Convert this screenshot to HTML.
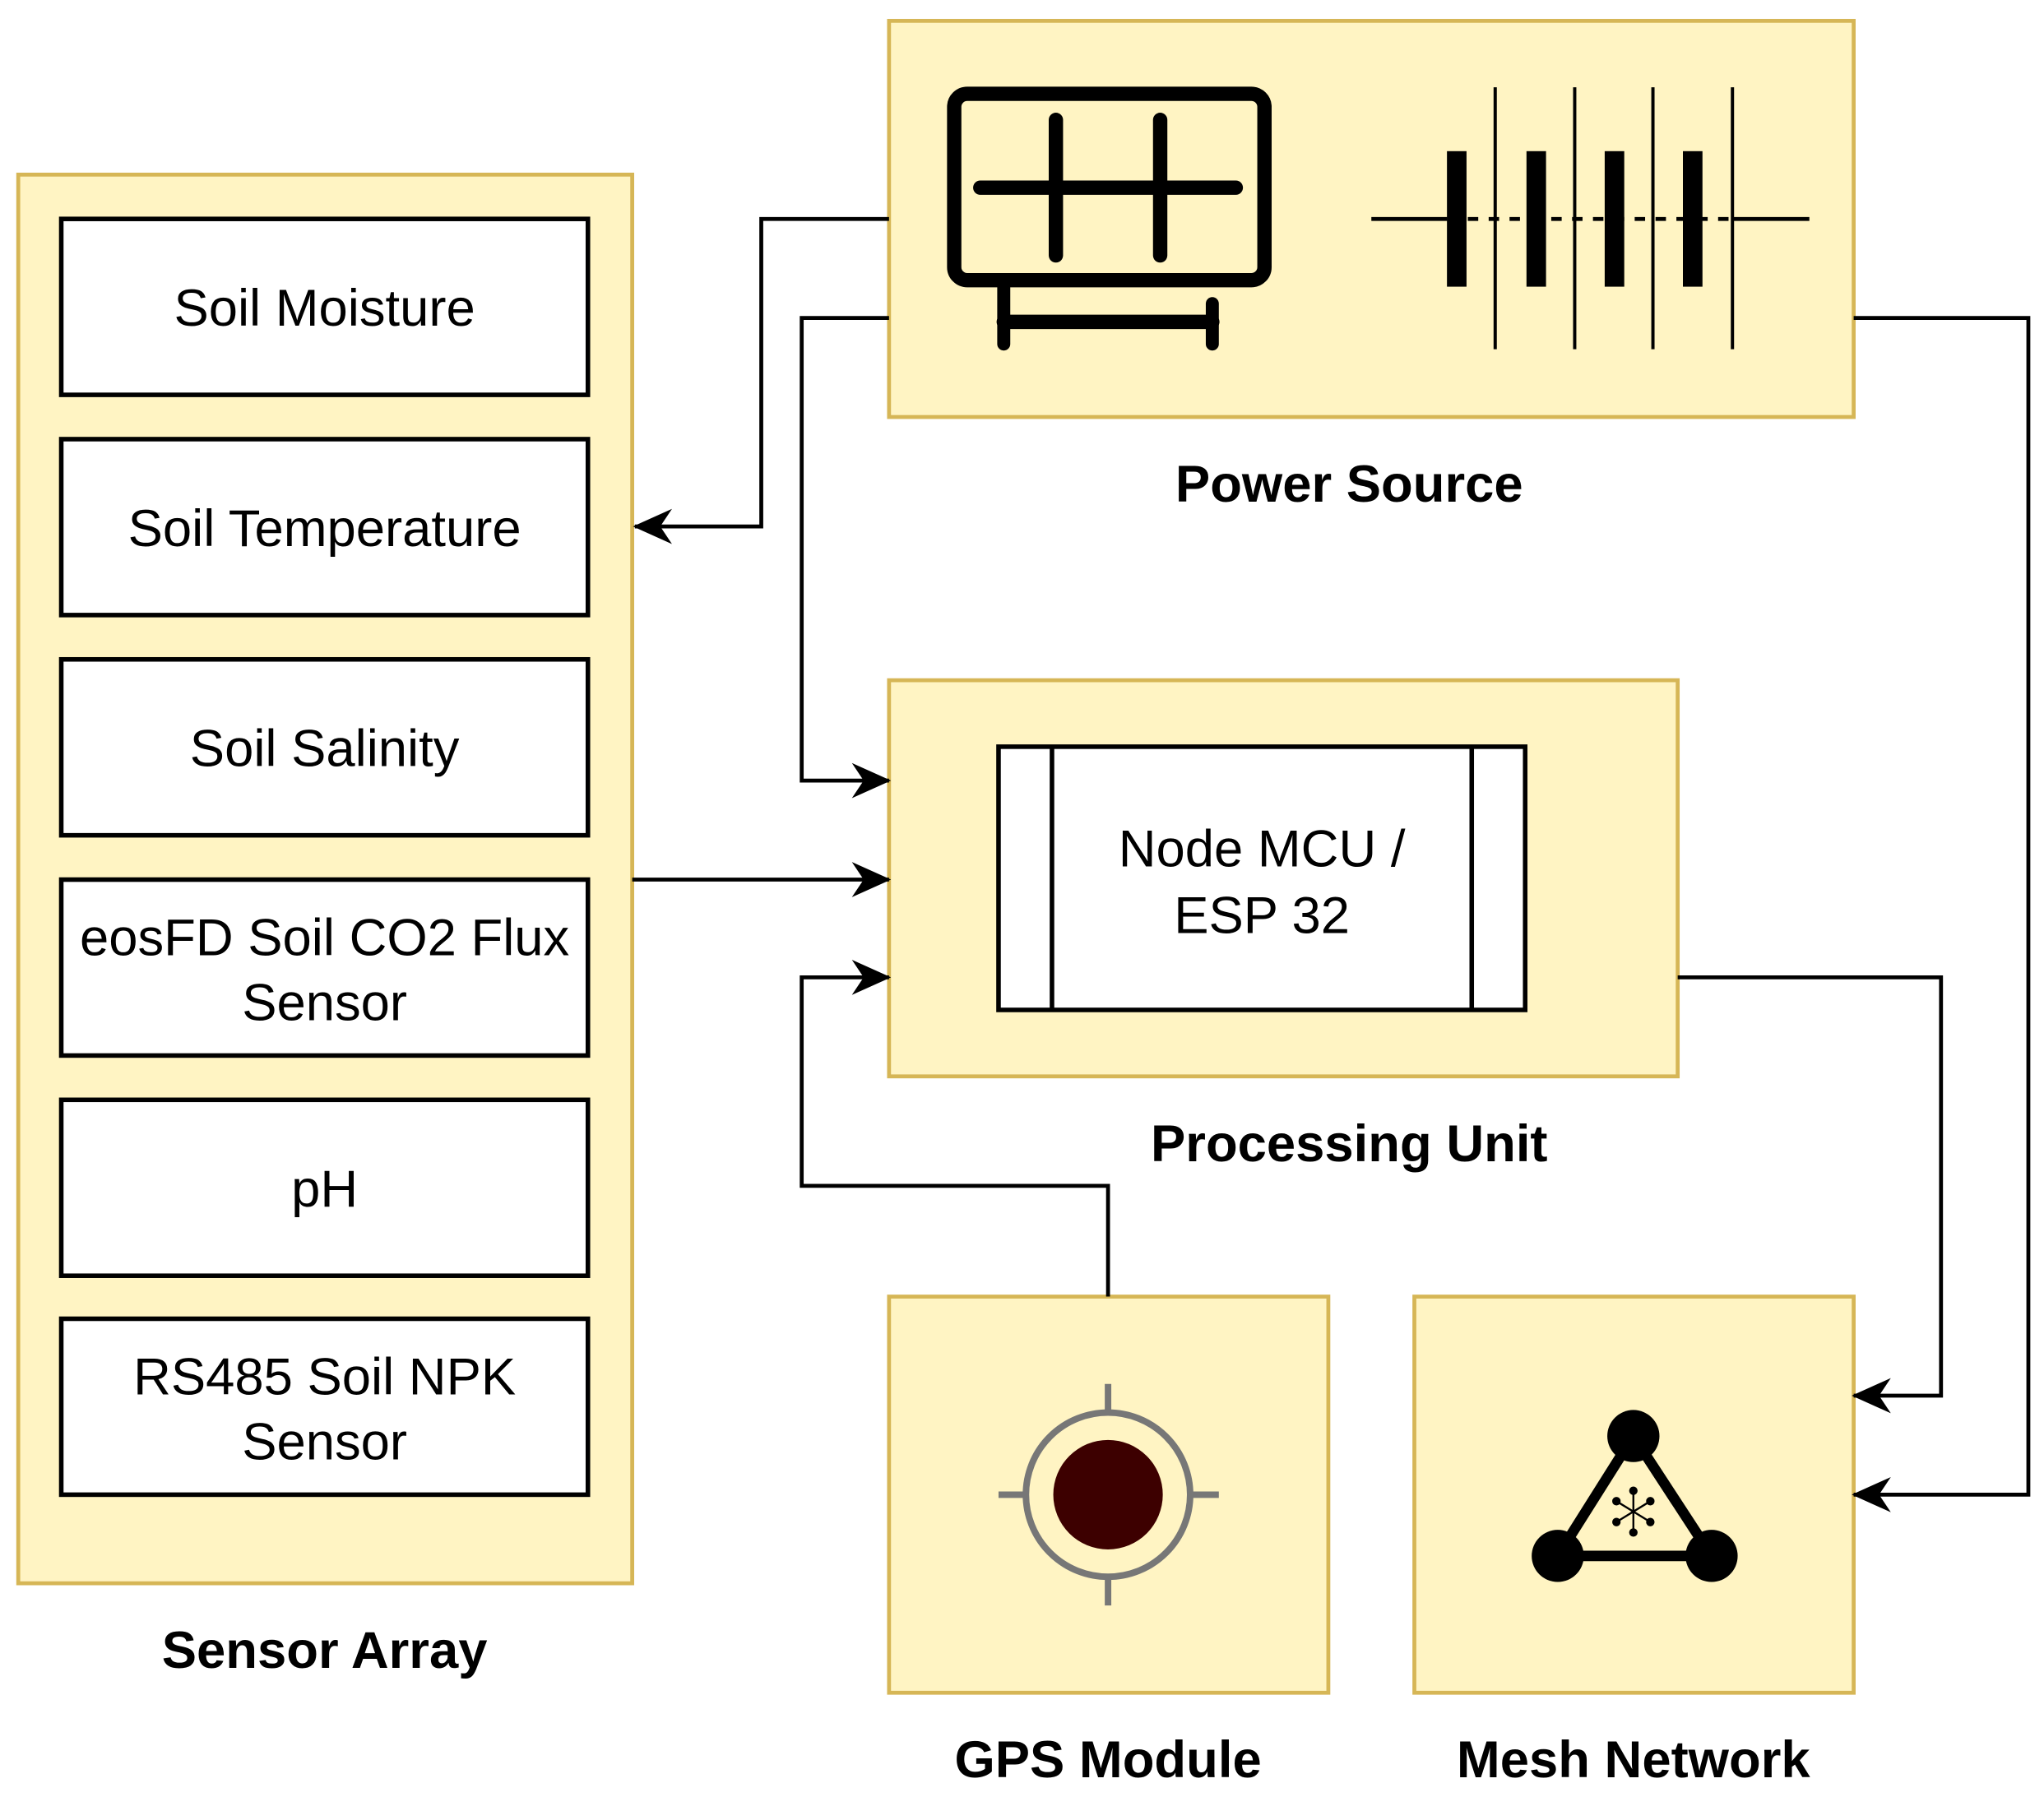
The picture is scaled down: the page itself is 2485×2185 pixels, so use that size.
<!DOCTYPE html>
<html><head><meta charset="utf-8"><style>
html,body{margin:0;padding:0;background:#fff;}
svg{display:block;}
text{font-family:"Liberation Sans",Arial,sans-serif;}
</style></head><body>
<svg width="2485" height="2185" viewBox="0 0 1568 1379" preserveAspectRatio="none" xmlns="http://www.w3.org/2000/svg">
<defs>
<marker id="a" viewBox="0 0 20 20" refX="19" refY="10" markerWidth="30" markerHeight="30" markerUnits="userSpaceOnUse" orient="auto">
<path d="M0,1 L20,10 L0,19 L6,10 Z" fill="#000"/>
</marker>
</defs>
<g fill="#fff4c3" stroke="#d6b656" stroke-width="3">
<rect x="14" y="134" width="471" height="1081"/>
<rect x="682" y="16" width="740" height="304"/>
<rect x="682" y="522" width="605" height="304"/>
<rect x="682" y="995" width="337" height="304"/>
<rect x="1085" y="995" width="337" height="304"/>
</g>
<g fill="#fff" stroke="#000" stroke-width="3.5">
<rect x="47" y="168" width="404" height="135"/>
<rect x="47" y="337" width="404" height="135"/>
<rect x="47" y="506" width="404" height="135"/>
<rect x="47" y="675" width="404" height="135"/>
<rect x="47" y="844" width="404" height="135"/>
<rect x="47" y="1012" width="404" height="135"/>
<rect x="766" y="573" width="404" height="202"/>
<line x1="807" y1="573" x2="807" y2="775"/>
<line x1="1129" y1="573" x2="1129" y2="775"/>
</g>
<g font-size="40" text-anchor="middle" fill="#000">
<text x="249" y="250">Soil Moisture</text>
<text x="249" y="419">Soil Temperature</text>
<text x="249" y="588">Soil Salinity</text>
<text x="249" y="733">eosFD Soil CO2 Flux</text>
<text x="249" y="783">Sensor</text>
<text x="249" y="926">pH</text>
<text x="249" y="1070">RS485 Soil NPK</text>
<text x="249" y="1120">Sensor</text>
<text x="968" y="665">Node MCU /</text>
<text x="968" y="716">ESP 32</text>
</g>
<g font-size="40" font-weight="bold" text-anchor="middle" fill="#000">
<text x="249" y="1280">Sensor Array</text>
<text x="1035" y="385">Power Source</text>
<text x="1035" y="891">Processing Unit</text>
<text x="850" y="1364">GPS Module</text>
<text x="1253" y="1364">Mesh Network</text>
</g>
<g fill="none" stroke="#000" stroke-width="3">
<path d="M682,168 H584 V404 H487" marker-end="url(#a)"/>
<path d="M682,244 H615 V599 H682" marker-end="url(#a)"/>
<path d="M485,675 H682" marker-end="url(#a)"/>
<path d="M850,995 V910 H615 V750 H682" marker-end="url(#a)"/>
<path d="M1287,750 H1489 V1071 H1422" marker-end="url(#a)"/>
<path d="M1422,244 H1556 V1147 H1422" marker-end="url(#a)"/>
</g>
<g fill="none" stroke="#000" stroke-linecap="round">
<rect x="732" y="72" width="238" height="143" rx="10" stroke-width="11"/>
<line x1="752" y1="144" x2="948" y2="144" stroke-width="11"/>
<line x1="810" y1="92" x2="810" y2="196" stroke-width="11"/>
<line x1="890" y1="92" x2="890" y2="196" stroke-width="11"/>
<line x1="770" y1="218" x2="770" y2="264" stroke-width="10"/>
<line x1="770" y1="247" x2="930" y2="247" stroke-width="11"/>
<line x1="930" y1="233" x2="930" y2="264" stroke-width="10"/>
</g>
<g stroke="#000">
<line x1="1052" y1="168" x2="1110" y2="168" stroke-width="3"/>
<line x1="1329" y1="168" x2="1388" y2="168" stroke-width="3"/>
<line x1="1110" y1="168" x2="1329" y2="168" stroke-width="3" stroke-dasharray="8,8"/>
<g stroke-width="2.5">
<line x1="1147" y1="67" x2="1147" y2="268"/>
<line x1="1208" y1="67" x2="1208" y2="268"/>
<line x1="1268" y1="67" x2="1268" y2="268"/>
<line x1="1329" y1="67" x2="1329" y2="268"/>
</g>
</g>
<g fill="#000">
<rect x="1110" y="116" width="15" height="104"/>
<rect x="1171" y="116" width="15" height="104"/>
<rect x="1231" y="116" width="15" height="104"/>
<rect x="1291" y="116" width="15" height="104"/>
</g>
<g stroke="#777" stroke-width="5">
<circle cx="850" cy="1147" r="63" fill="#fff4c3"/>
<line x1="850" y1="1062" x2="850" y2="1084"/>
<line x1="850" y1="1210" x2="850" y2="1232"/>
<line x1="766" y1="1147" x2="788" y2="1147"/>
<line x1="912" y1="1147" x2="935" y2="1147"/>
</g>
<circle cx="850" cy="1147" r="42" fill="#3d0000"/>
<path d="M1253,1102 L1195,1194 L1313,1194 Z" fill="none" stroke="#000" stroke-width="8" stroke-linejoin="round"/>
<circle cx="1253" cy="1102" r="20" fill="#000"/>
<circle cx="1195" cy="1194" r="20" fill="#000"/>
<circle cx="1313" cy="1194" r="20" fill="#000"/>
<g stroke="#000" stroke-width="1.5" fill="#000">
<line x1="1253" y1="1144" x2="1253" y2="1176"/>
<line x1="1240" y1="1152" x2="1266" y2="1168"/>
<line x1="1240" y1="1168" x2="1266" y2="1152"/>
<circle cx="1253" cy="1144" r="2.5"/><circle cx="1253" cy="1176" r="2.5"/>
<circle cx="1240" cy="1152" r="2.5"/><circle cx="1266" cy="1168" r="2.5"/>
<circle cx="1240" cy="1168" r="2.5"/><circle cx="1266" cy="1152" r="2.5"/>
</g>
</svg>
</body></html>
